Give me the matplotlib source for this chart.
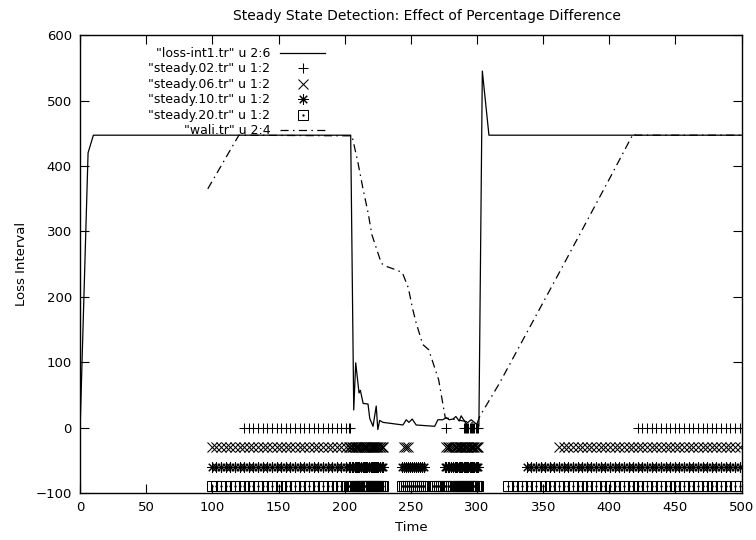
import matplotlib
matplotlib.use("Agg")
import matplotlib.pyplot as plt
from matplotlib.legend_handler import HandlerTuple

plt.rcParams['font.family'] = ['DejaVu Sans']

# loss-int1.tr, columns 2:6
loss_t = [0, 6, 10, 204.5, 206.8, 208.3, 210.8, 211.8, 213.9, 217.6, 218.9, 221.4,
          223.8, 225, 226.4, 228.9, 244, 246.5, 248.5, 251, 254, 268, 270.4, 274,
          276.7, 279, 281.8, 284, 286.5, 288, 291.8, 295.6, 298, 301.4, 304, 309, 500]
loss_v = [0, 420, 447, 447, 27, 99, 53, 57, 37, 36, 14, 2,
          33, -3, 11, 8, 4, 12, 8, 13, 4, 2, 12, 12,
          15, 12, 13, 17, 10, 18, 6, 12, 8, 2, 545, 447, 447]

# wali.tr, columns 2:4
wali_t = [96.5, 120, 205.5, 210, 213.8, 217.6, 220.5, 227.7, 232, 239, 243.5, 248,
          251.5, 254, 259, 263.5, 271, 276, 290, 300, 302, 317, 363.5, 400, 418, 420, 500]
wali_v = [365, 447, 446, 405, 365, 329, 295, 251, 246, 241, 237, 214,
          180, 160, 127, 119, 73, 15, 10, 6, 17, 68, 242, 380, 449, 447, 447]

# loss event times at which the steady-state test is evaluated
events = [99.5, 103, 106.5, 110, 113.5, 117, 120.5, 124, 127.5, 131, 134.5, 138,
          141.5, 145, 148.5, 152, 155.5, 159, 162.5, 166, 169.5, 173, 176.5, 180,
          183.5, 187, 190.5, 194, 197.5, 201,
          203, 204, 205.5, 206.5, 207.5, 208.5, 209.5, 210, 211, 212, 212.5, 213.5,
          214.5, 215, 216, 217, 218, 218.5, 219.5, 220.5, 221, 222, 223, 224, 224.5,
          225.5, 226.5, 227, 228, 229,
          243.5, 245, 246.5, 248, 249.5, 251, 252.5, 254, 255.5, 257, 258.5, 260,
          266.5, 268, 269.5, 271, 272.5, 274, 275.5, 276.5, 278, 279, 280, 281.5,
          283, 284, 285, 286, 287, 288, 289, 290, 291, 291.5, 292.5, 293.5, 294.5,
          295.5, 296, 297, 298, 299, 300, 301,
          323.5, 327, 330.5, 334, 337.5, 341, 344.5, 348, 351.5, 355, 358.5, 362,
          365.5, 369, 372.5, 376, 379.5, 383, 386.5, 390, 393.5, 397, 400.5, 404,
          407.5, 411, 414.5, 418, 421.5, 425, 428.5, 432, 435.5, 439, 442.5, 446,
          449.5, 453, 456.5, 460, 463.5, 467, 470.5, 474, 477.5, 481, 484.5, 488,
          491.5, 495, 498.5]

# time windows flagged steady for each percentage threshold
steady02_win = [(123, 204.5), (276, 277), (289.5, 302), (421, 501)]
steady06_win = [(99, 229.5), (244.5, 248.5), (276, 302), (361, 501)]
steady10_win = [(99, 229.5), (243, 261), (275, 302), (337, 501)]
steady20_win = [(99, 229.5), (243, 261), (266, 302), (323, 501)]

# each steady file is plotted at its own row below zero
steady_level = {'02': 0, '06': -30, '10': -60, '20': -90}


def in_windows(times, windows):
    return [t for t in times if any(a <= t <= b for a, b in windows)]


s02 = in_windows(events, steady02_win)
s06 = in_windows(events, steady06_win)
s10 = in_windows(events, steady10_win)
s20 = in_windows(events, steady20_win)

fig = plt.figure(figsize=(7.56, 5.4), dpi=100)
ax = fig.add_axes([0.106, 0.087, 0.875, 0.848])

mk = dict(linestyle='none', color='black', mew=0.75)
h_loss, = ax.plot(loss_t, loss_v, color='black', lw=0.9)
h02, = ax.plot(s02, [steady_level['02']] * len(s02), marker='+', ms=7.5, **mk)
h06, = ax.plot(s06, [steady_level['06']] * len(s06), marker='x', ms=6.5, **mk)
h10, = ax.plot(s10, [steady_level['10']] * len(s10), marker=(8, 2, 0), ms=7.5, **mk)
h20a, = ax.plot(s20, [steady_level['20']] * len(s20), marker='s', ms=6.8, mfc='none', **mk)
h20b, = ax.plot(s20, [steady_level['20']] * len(s20), marker='o', ms=0.9, **mk)
h_wali, = ax.plot(wali_t, wali_v, color='black', lw=0.9,
                  linestyle=(0, (6.5, 3.5, 1.2, 3.5)))

ax.set_xlim(0, 500)
ax.set_ylim(-100, 600)
ax.set_xticks(range(0, 501, 50))
ax.set_yticks(range(-100, 601, 100))
ax.tick_params(direction='in', length=6.5, width=0.8, top=True, right=True,
               labelsize=9.5, pad=6)
for sp in ax.spines.values():
    sp.set_linewidth(1.0)

ax.set_xlabel('Time', fontsize=9.5, labelpad=5)
ax.set_ylabel('Loss Interval', fontsize=9.5, labelpad=5)
ax.set_title('Steady State Detection: Effect of Percentage Difference',
             fontsize=10, pad=11, x=0.524)

leg = ax.legend([h_loss, h02, h06, h10, (h20a, h20b), h_wali],
                ['"loss-int1.tr" u 2:6', '"steady.02.tr" u 1:2', '"steady.06.tr" u 1:2',
                 '"steady.10.tr" u 1:2', '"steady.20.tr" u 1:2', '"wali.tr" u 2:4'],
                handler_map={tuple: HandlerTuple(ndivide=1, pad=0)},
                loc='upper left', bbox_to_anchor=(0.085, 1.0), markerfirst=False,
                frameon=False, fontsize=9, handlelength=3.6, handletextpad=0.8,
                labelspacing=0.2, borderpad=0.45)

fig.savefig('out.png', dpi=100)
